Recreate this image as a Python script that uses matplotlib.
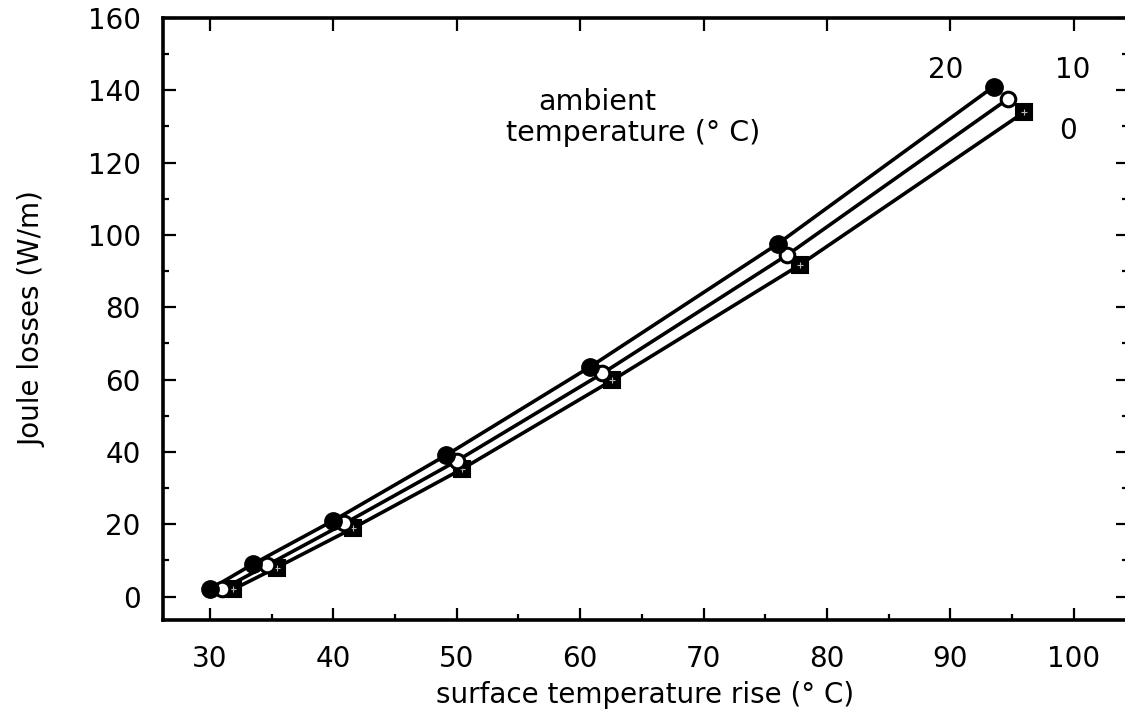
import matplotlib
matplotlib.use("Agg")
import matplotlib.pyplot as plt
from matplotlib.ticker import MultipleLocator

# Surface temperature rise (deg C) and Joule losses (W/m) for three ambient temperatures
rise_20 = [30.0, 33.5, 40.0, 49.1, 60.8, 76.0, 93.5]
loss_20 = [2.0, 9.0, 21.0, 39.0, 63.5, 97.5, 141.0]

rise_10 = [31.0, 34.6, 40.9, 50.0, 61.8, 76.8, 94.7]
loss_10 = [2.0, 8.6, 20.2, 37.5, 61.7, 94.5, 137.7]

rise_0 = [31.9, 35.4, 41.6, 50.4, 62.6, 77.8, 96.0]
loss_0 = [2.0, 8.0, 18.9, 35.2, 59.8, 91.7, 134.0]

x_ticks = [30, 40, 50, 60, 70, 80, 90, 100]
y_ticks = [0, 20, 40, 60, 80, 100, 120, 140, 160]

plt.rcParams["font.family"] = ["DejaVu Sans"]

fig = plt.figure(figsize=(11.25, 7.13), dpi=100)
ax = fig.add_axes([0.1449, 0.1304, 0.8578, 0.8444])

lw = 2.6
# squares (0 deg C)
ax.plot(rise_0, loss_0, color="black", lw=lw, zorder=2)
ax.plot(rise_0, loss_0, ls="none", marker="s", ms=11, mfc="black", mec="black",
        mew=1.5, zorder=3)
ax.plot(rise_0, loss_0, ls="none", marker="+", ms=4, mec="#bbbbbb", mew=0.8, zorder=3.1)
# open circles (10 deg C)
ax.plot(rise_10, loss_10, color="black", lw=lw, zorder=2)
ax.plot(rise_10, loss_10, ls="none", marker="o", ms=10.5, mfc="white", mec="black",
        mew=2.2, zorder=4)
# filled circles (20 deg C)
ax.plot(rise_20, loss_20, color="black", lw=lw, zorder=2)
ax.plot(rise_20, loss_20, ls="none", marker="o", ms=12.5, mfc="black", mec="black",
        zorder=5)

ax.set_xlim(26.2, 104.4)
ax.set_ylim(-6.5, 160)

ax.set_xticks(x_ticks)
ax.set_yticks(y_ticks)
ax.xaxis.set_minor_locator(MultipleLocator(5))
ax.yaxis.set_minor_locator(MultipleLocator(10))

ax.tick_params(which="both", direction="in", right=True, width=1.6)
ax.tick_params(which="major", length=9, labelsize=20, pad=16)
ax.tick_params(which="minor", length=4)
ax.tick_params(axis="x", which="major", pad=18, top=True)
ax.tick_params(axis="x", which="minor", top=False)

for side in ["left", "bottom", "top", "right"]:
    ax.spines[side].set_linewidth(2.6)

ax.set_xlabel("surface temperature rise (° C)", fontsize=20, labelpad=6)
ax.set_ylabel("Joule losses (W/m)", fontsize=20, labelpad=30)

ax.text(89.65, 145.6, "20", fontsize=20, ha="center", va="center")
ax.text(99.9, 145.6, "10", fontsize=20, ha="center", va="center")
ax.text(99.5, 128.8, "0", fontsize=20, ha="center", va="center")
ax.text(61.4, 136.8, "ambient", fontsize=20.5, ha="center", va="center")
ax.text(64.3, 128.2, "temperature (° C)", fontsize=20.5, ha="center", va="center")

fig.savefig("out.png", dpi=100)
